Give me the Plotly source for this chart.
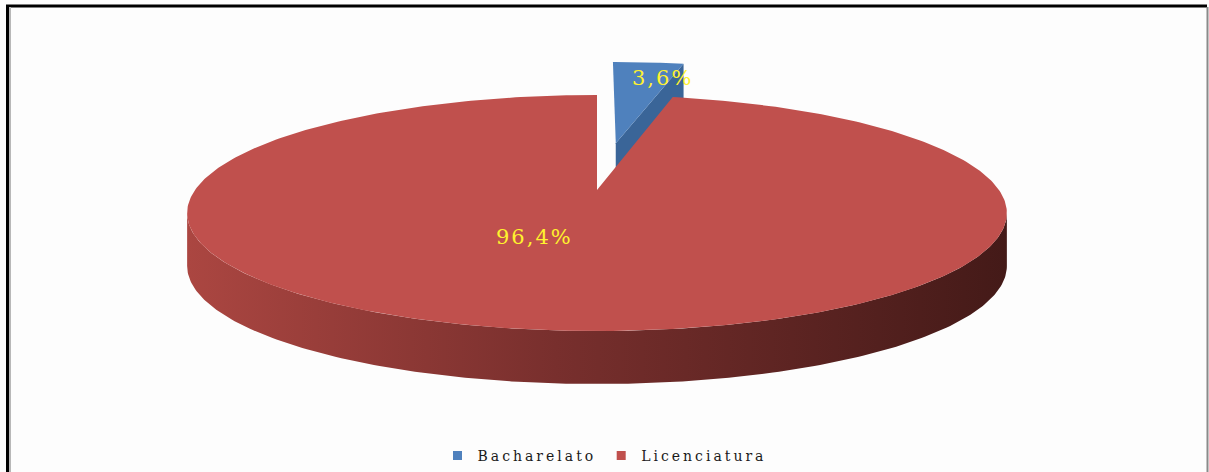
import numpy as np
import plotly.graph_objects as go

# Data
categories = ["Bacharelato", "Licenciatura"]
shares = [3.6, 96.4]
pct_labels = ["3,6%", "96,4%"]

# Styling
top_colors = ["#4F81BD", "#C0504D"]
cut_colors = ["#3A6598", "#8E3A37"]
explode = [0.45, 0.0]
label_r = [0.72, 0.40]
label_shift = [(22, 4), (-43, 2)]

W, H = 1209, 472
CX, CY = 597, 190          # centre of the disc top
RX, RY = 402, 113.5        # disc radii on screen
PERSP = 0.195              # perspective strength (back smaller than front)
DEPTH = 53                 # thickness of the disc


def project(u, v, drop=0.0):
    """Map a point of the unit disc (u right, v towards the back) to the canvas."""
    u = np.asarray(u, dtype=float)
    v = np.asarray(v, dtype=float)
    w = 1.0 / (1.0 + PERSP * v)
    return CX + RX * u * w, CY - RY * v * w + drop


# slice angles: start at 12 o'clock, clockwise
bounds = np.concatenate([[0.0], np.cumsum(shares) / np.sum(shares) * 360.0])
slices = []
for i in range(len(shares)):
    a0, a1 = bounds[i], bounds[i + 1]
    mid = np.radians((a0 + a1) / 2)
    ou, ov = explode[i] * np.sin(mid), explode[i] * np.cos(mid)
    slices.append((a0, a1, mid, ou, ov))

fig = go.Figure()


def add_poly(xs, ys, color, **kw):
    fig.add_trace(go.Scatter(
        x=list(xs) + [xs[0]], y=list(ys) + [ys[0]], mode="lines",
        line=dict(width=0, color=color), fill="toself", fillcolor=color,
        hoverinfo="skip", showlegend=False, **kw))


# --- exploded small slice (drawn first, it sits behind) ---
a0, a1, mid, ou, ov = slices[0]
t1 = np.radians(a1)
ax, ay = project(ou, ov)
rx_, ry_ = project(ou + np.sin(t1), ov + np.cos(t1))
axb, ayb = project(ou, ov, DEPTH)
rxb, ryb = project(ou + np.sin(t1), ov + np.cos(t1), DEPTH)
add_poly([ax, rx_, rxb, axb], [ay, ry_, ryb, ayb], cut_colors[0])

th = np.radians(np.linspace(a0, a1, 40))
px, py = project(ou + np.sin(th), ov + np.cos(th))
add_poly(np.concatenate([[ax], px]), np.concatenate([[ay], py]), top_colors[0])

# --- large slice: curved outer wall with shading, then the top ---
a0, a1, mid, ou, ov = slices[1]
t_right = np.degrees(np.arccos(-PERSP))
t_left = 360.0 - t_right
th = np.radians(np.linspace(max(a0, t_right), min(a1, t_left), 200))
tx, ty = project(ou + np.sin(th), ov + np.cos(th))
bx, by = project(ou + np.sin(th), ov + np.cos(th), DEPTH)
sx = np.concatenate([tx, bx[::-1], [tx[0]]])
sy = np.concatenate([ty, by[::-1], [ty[0]]])
fig.add_trace(go.Scatter(
    x=sx, y=sy, mode="lines", line=dict(width=0, color="#6f2b29"),
    fill="toself",
    fillgradient=dict(type="horizontal",
                      colorscale=[[0.0, "#AB4641"], [0.45, "#782F2D"],
                                  [1.0, "#441a18"]]),
    hoverinfo="skip", showlegend=False))

th = np.radians(np.linspace(a0, a1, 400))
px, py = project(ou + np.sin(th), ov + np.cos(th))
cx0, cy0 = project(ou, ov)
add_poly(np.concatenate([[cx0], px]), np.concatenate([[cy0], py]), top_colors[1])

# --- percentage labels ---
for i, (a0, a1, mid, ou, ov) in enumerate(slices):
    lx, ly = project(ou + label_r[i] * np.sin(mid), ov + label_r[i] * np.cos(mid))
    fig.add_annotation(
        x=float(lx), y=float(ly), xref="x", yref="y", showarrow=False,
        text=f'<span style="letter-spacing:2px">{pct_labels[i]}</span>',
        font=dict(family="DejaVu Serif", size=21, color="#FFF22E"),
        xshift=label_shift[i][0], yshift=label_shift[i][1])

# --- legend entries ---
for name, col in zip(categories, top_colors):
    fig.add_trace(go.Scatter(
        x=[None], y=[None], mode="markers",
        name=f'<span style="letter-spacing:3px">{name}</span>',
        marker=dict(symbol="square", size=9, color=col)))

# frame around the chart area
fig.add_shape(type="line", x0=6, x1=1207, y0=6, y1=6, xref="x", yref="y",
              line=dict(color="#000000", width=3))
fig.add_shape(type="line", x0=7.5, x1=7.5, y0=5, y1=H, xref="x", yref="y",
              line=dict(color="#000000", width=3))
fig.add_shape(type="line", x0=10, x1=10, y0=7, y1=H, xref="x", yref="y",
              line=dict(color="#B8B8B8", width=2))
fig.add_shape(type="line", x0=1207.5, x1=1207.5, y0=7, y1=H, xref="x", yref="y",
              line=dict(color="#8A8A8A", width=2))

fig.update_layout(
    width=W, height=H, margin=dict(l=0, r=0, t=0, b=0),
    paper_bgcolor="#FDFDFD", plot_bgcolor="#FDFDFD",
    xaxis=dict(range=[0, W], visible=False, fixedrange=True),
    yaxis=dict(range=[H, 0], visible=False, fixedrange=True),
    showlegend=True,
    legend=dict(orientation="h", x=0.5, xanchor="center", y=1 - 456 / H,
                yanchor="middle", bgcolor="rgba(0,0,0,0)",
                font=dict(family="DejaVu Serif", size=14, color="#1a1a1a"),
                itemwidth=30, tracegroupgap=0),
)

fig.write_html("out.html")
